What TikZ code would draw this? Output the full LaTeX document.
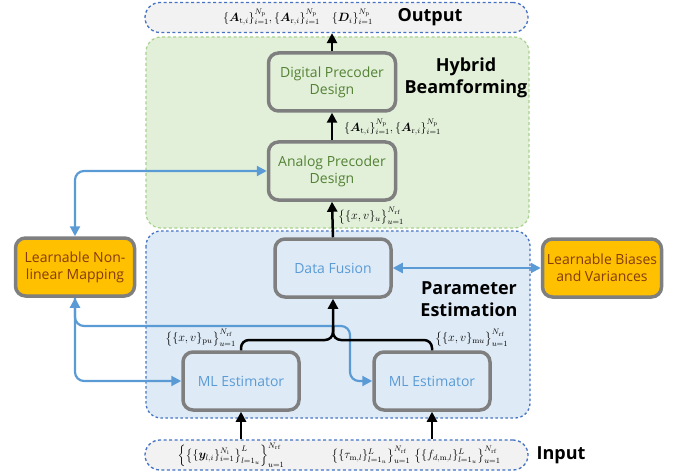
\documentclass[tikz,border=0pt]{standalone}
\usepackage{amsmath,bm}
\usepackage{fontspec}
\newfontfamily\lab{Open Sans}
\usetikzlibrary{arrows.meta}
\definecolor{boxgray}{HTML}{7F7F7F}
\definecolor{gfill}{HTML}{E2F0D9}
\definecolor{gline}{HTML}{A9D18E}
\definecolor{bfill}{HTML}{DEEBF7}
\definecolor{bline}{HTML}{4472C4}
\definecolor{grayfill}{HTML}{F2F2F2}
\definecolor{gtext}{HTML}{548235}
\definecolor{btext}{HTML}{5B9BD5}
\definecolor{arrblue}{HTML}{5B9BD5}
\definecolor{orfill}{HTML}{FFC000}
\definecolor{ortext}{HTML}{843C0C}
\tikzset{
  >={Triangle[length=10pt,width=10pt]},
  pill/.style={draw=bline, fill=grayfill, line width=1.3pt, dash pattern=on 3pt off 2.5pt, rounded corners=15pt, minimum width=383pt, minimum height=30pt, inner sep=0pt},
  proc/.style={draw=boxgray, line width=3.5pt, rounded corners=10pt, align=center, inner sep=2pt, font=\lab\fontsize{14}{17}\selectfont},
  greenproc/.style={proc, fill=gfill, text=gtext, minimum width=127pt, minimum height=58pt},
  blueproc/.style={proc, fill=bfill, text=btext, minimum width=116pt, minimum height=58pt},
  orproc/.style={proc, fill=orfill, text=ortext, minimum width=119pt, minimum height=58pt},
  title/.style={font=\lab\bfseries\fontsize{18}{22}\selectfont, align=center, inner sep=0pt},
  blk/.style={line width=2.5pt, black, ->},
  blu/.style={line width=2.2pt, arrblue},
  mlab/.style={inner sep=1pt, font=\fontsize{12}{14}\selectfont}
}
\begin{document}
\begin{tikzpicture}[x=1pt,y=-1pt]
\useasboundingbox (0,0) rectangle (677,476);
% regions
\draw[fill=gfill, draw=gline, line width=1.2pt, dash pattern=on 3pt off 2.5pt, rounded corners=15pt] (146,37) rectangle (529,228);
\draw[fill=bfill, draw=bline, line width=1.3pt, dash pattern=on 2.5pt off 2.5pt, rounded corners=15pt] (146,231) rectangle (530,418);
\node[pill] (out) at (336.5,17.5) {};
\node[pill] (inp) at (336.5,455) {};
% texts of output/input
\node[mlab] (outf) at (298,17) {$\{\bm{A}_{\mathrm{t},i}\}_{i=1}^{N_\mathrm{p}},\{\bm{A}_{\mathrm{r},i}\}_{i=1}^{N_\mathrm{p}}\quad\{\bm{D}_i\}_{i=1}^{N_\mathrm{p}}$};
\node[title] (outt) at (430,17) {Output};
\node[mlab] (inf1) at (231,455) {$\Big\{\big\{\{\bm{y}_{l,i}\}_{i=1}^{N_\mathrm{i}}\big\}_{l=1_u}^{L}\Big\}_{u=1}^{N_\mathrm{rf}}$};
\node[mlab] (inf2) at (416,455) {$\big\{\{\tau_{\mathrm{m},l}\}_{l=1_u}^{L}\big\}_{u=1}^{N_\mathrm{rf}}\ \big\{\{f_{d,\mathrm{m},l}\}_{l=1_u}^{L}\big\}_{u=1}^{N_\mathrm{rf}}$};
\node[title] (inpt) at (561,455) {Input};
% titles
\node[title] (hb) at (466,78) {Hybrid\\Beamforming};
\node[title] (pe) at (469,299) {Parameter\\Estimation};
% process nodes
\node[greenproc] (dig) at (332,82) {Digital Precoder\\Design};
\node[greenproc] (ana) at (332,171) {Analog Precoder\\Design};
\node[blueproc] (df) at (333,268) {Data Fusion};
\node[blueproc] (ml1) at (241,381) {ML Estimator};
\node[blueproc] (ml2) at (432,381) {ML Estimator};
\node[orproc] (nl) at (75,267) {Learnable Non-\\linear Mapping};
\node[orproc] (bv) at (602,268) {Learnable Biases\\and Variances};
% blue connectors
\coordinate (bj) at (350,326);
\draw[blu, <->, rounded corners=9pt] (nl.north) |- (ana.west);
\draw[blu, <->] (df.east) -- (bv.west);
\draw[blu, <->, rounded corners=9pt] (nl.south) |- (ml1.west);
\draw[blu, ->, rounded corners=9pt] (nl.south) |- (bj) |- (ml2.west);
% black connectors
\coordinate (mj) at (333,340);
\draw[blk] (dig.north) -- (out.south -| dig.north);
\draw[blk] (ana.north) -- (dig.south);
\draw[blk] (df.north) -- (ana.south);
\draw[blk, rounded corners=8pt] (ml1.north) |- (mj) -- (df.south);
\draw[line width=2.5pt, rounded corners=8pt] (ml2.north) |- (mj) -- ([yshift=14pt]mj);
\draw[blk] (inp.north -| ml1.south) -- (ml1.south);
\draw[blk] (inp.north -| ml2.south) -- (ml2.south);
% labels on connectors
\node[mlab, anchor=west] (l1) at (343,127) {$\{\bm{A}_{\mathrm{t},i}\}_{i=1}^{N_\mathrm{p}},\{\bm{A}_{\mathrm{r},i}\}_{i=1}^{N_\mathrm{p}}$};
\node[mlab, anchor=west] (l2) at (337,216) {$\big\{\{x,v\}_u\big\}_{u=1}^{N_\mathrm{rf}}$};
\node[mlab, anchor=east] (l3) at (237,338) {$\big\{\{x,v\}_{\mathrm{p}u}\big\}_{u=1}^{N_\mathrm{rf}}$};
\node[mlab, anchor=west] (l4) at (434,338) {$\big\{\{x,v\}_{\mathrm{m}u}\big\}_{u=1}^{N_\mathrm{rf}}$};
\end{tikzpicture}
\end{document}
